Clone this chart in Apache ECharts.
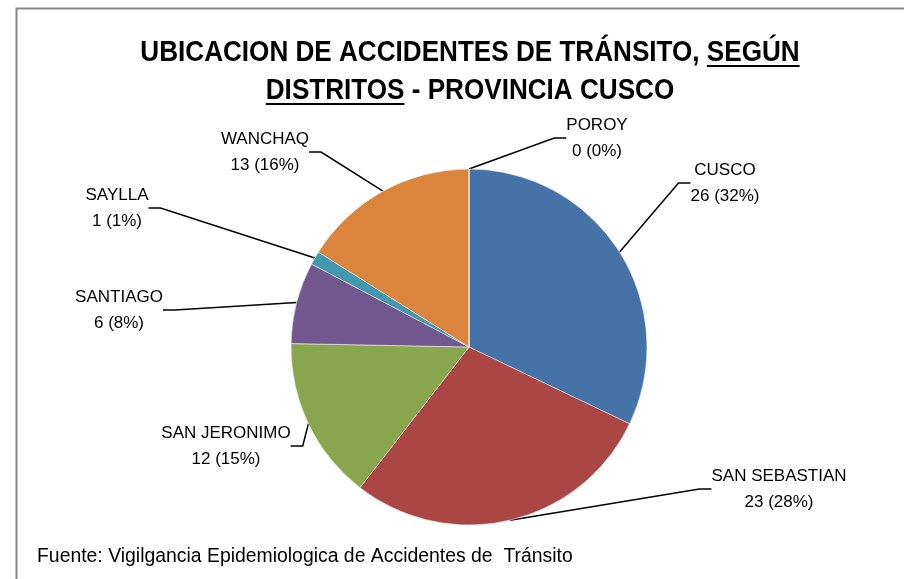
<!DOCTYPE html>
<html><head><meta charset="utf-8">
<script src="https://cdn.jsdelivr.net/npm/echarts@6/dist/echarts.min.js"></script>
<style>html,body{margin:0;padding:0;background:#fff}#c{width:904px;height:579px}</style>
</head><body><div id="c"></div>
<script>
// ---- data ----
const categories = ['CUSCO', 'SAN SEBASTIAN', 'SAN JERONIMO', 'SANTIAGO', 'SAYLLA', 'WANCHAQ', 'POROY'];
const values = [26, 23, 12, 6, 1, 13, 0];
const titleLine1Plain = 'UBICACION DE ACCIDENTES DE TRÁNSITO, ';
const titleLine1Under = 'SEGÚN';
const titleLine2Under = 'DISTRITOS';
const titleLine2Plain = ' - PROVINCIA CUSCO';
const sourceText = 'Fuente: Vigilgancia Epidemiologica de Accidentes de  Tránsito';

// ---- style ----
const colors = ['#4572A7', '#AA4643', '#89A54E', '#71588F', '#4198AF', '#DB843D', '#93A9CF'];
const labelPos = {
  'CUSCO': [725, 183],
  'SAN SEBASTIAN': [779, 489],
  'SAN JERONIMO': [226, 446],
  'SANTIAGO': [119, 310],
  'SAYLLA': [117, 208],
  'WANCHAQ': [265, 152],
  'POROY': [597, 138]
};
const titleFamily = '"Liberation Sans", sans-serif';
const titleSize = 29;
const titleFont = 'bold ' + titleSize + 'px ' + titleFamily;
const titleScaleX = 0.9;
const labelFamily = '"Liberation Sans", sans-serif';

const ctx = document.createElement('canvas').getContext('2d');
ctx.font = titleFont;
const mw = s => ctx.measureText(s).width * titleScaleX;
const cx = 470;
const l1y = 53, l2y = 91;
const w1a = mw(titleLine1Plain), w1b = mw(titleLine1Under);
const x1 = cx - (w1a + w1b) / 2;
const w2a = mw(titleLine2Under), w2b = mw(titleLine2Plain);
const x2 = cx - (w2a + w2b) / 2;
const ulOff = 13;

const chart = echarts.init(document.getElementById('c'), null, {renderer: 'canvas'});
chart.setOption({
  backgroundColor: '#ffffff',
  animation: false,
  graphic: [
    {type: 'rect', shape: {x: 16.5, y: 8.5, width: 1000, height: 1000}, style: {fill: 'none', stroke: '#878787', lineWidth: 2}},
    {type: 'text', x: x1, y: l1y, scaleX: titleScaleX, style: {text: titleLine1Plain + titleLine1Under, font: titleFont, fill: '#000', align: 'left', verticalAlign: 'middle'}},
    {type: 'text', x: x2, y: l2y, scaleX: titleScaleX, style: {text: titleLine2Under + titleLine2Plain, font: titleFont, fill: '#000', align: 'left', verticalAlign: 'middle'}},
    {type: 'line', shape: {x1: x1 + w1a, y1: l1y + ulOff, x2: x1 + w1a + w1b, y2: l1y + ulOff}, style: {stroke: '#000', lineWidth: 2}},
    {type: 'line', shape: {x1: x2, y1: l2y + ulOff, x2: x2 + w2a, y2: l2y + ulOff}, style: {stroke: '#000', lineWidth: 2}},
    {type: 'text', x: 37, y: 557, style: {text: sourceText, font: '19.4px ' + labelFamily, fill: '#000', align: 'left', verticalAlign: 'middle'}}
  ],
  series: [{
    type: 'pie',
    center: [469, 347],
    radius: 178,
    startAngle: 90,
    clockwise: true,
    percentPrecision: 0,
    avoidLabelOverlap: false,
    itemStyle: {borderColor: '#ffffff', borderWidth: 0.5},
    label: {
      show: true,
      formatter: '{b}\n{c} ({d}%)',
      color: '#000',
      fontFamily: labelFamily,
      fontSize: 17,
      lineHeight: 26,
      align: 'center'
    },
    labelLine: {show: true, length: 10, length2: 12, lineStyle: {color: '#000', width: 1.5}},
    labelLayout: function (p) {
      const pos = labelPos[p.text.split('\n')[0]];
      if (!pos) return {};
      return {x: pos[0], y: pos[1], align: 'center', verticalAlign: 'middle'};
    },
    data: categories.map((n, i) => ({name: n, value: values[i], itemStyle: {color: colors[i]}}))
  }]
});
</script></body></html>
